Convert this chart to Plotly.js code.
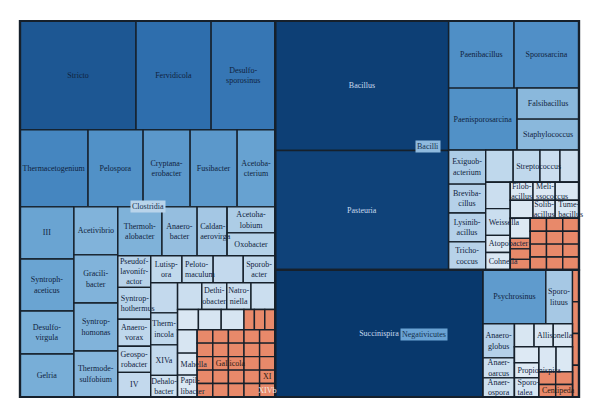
<!DOCTYPE html>
<html><head><meta charset="utf-8">
<script src="https://cdn.plot.ly/plotly-3.0.1.min.js"></script>
<style>html,body{margin:0;padding:0;background:#fff}#chart{width:600px;height:419px}</style>
</head><body><div id="chart"></div>
<script>
// ---------------- data ----------------
const groups = ['Clostridia', 'Bacilli', 'Negativicutes'];

// genus labels ('|' marks the line break used in the picture, '' = cell without a printed name)
const clostridiaGenera = ['Stricto','Fervidicola','Desulfo-|sporosinus','Thermacetogenium','Pelospora','Cryptana-|erobacter','Fusibacter','Acetoba-|cterium',
  'III','Syntroph-|aceticus','Desulfo-|virgula','Gelria','Acetivibrio','Gracili-|bacter','Syntrop-|homonas','Thermode-|sulfobium',
  'Thermoh-|alobacter','Anaero-|bacter','Caldan-|aerovirga','Acetoha-|lobium','Oxobacter',
  'Pseudof-|lavonifr-|actor','Syntrop-|hothermus','Anaero-|vorax','Geospo-|robacter','IV',
  'Lutisp-|ora','Peloto-|maculum','','Sporob-|acter',
  '','Therm-|incola','XIVa','Dehalo-|bacter',
  '','Dethi-|obacter','Natro-|niella','',
  '','','','','Mahella','Papil-|libacter'];
const clostridiaValues = [1264,818,698,524,424,362,362,293,
  281,281,232,232,211,211,211,202,
  216,172,147,125,110,
  104,105,89,86,81,
  84,84,81,86,
  81,86,82,58,
  65,67,65,65,
  42,46,46,46,43,43];
const clostridiaMinor = ['','','','','','','','','','','','','','','Gallicola','','','','','','','','XI','','','','','XIVb'];
const clostridiaMinorValues = [21,21,21,21,21,21,21,21,21,21,21,21,21,21,21,21,21,21,21,21,21,21,21,21,21,21,21,21];
// arrangement of the cells as nested strips (numbers = genus index, 'mN' = minor cell N)
const clostridiaTiles = [
  [0,1,2],
  [3,4,5,6,7],
  [[8,9,10,11],[12,13,14,15],
    [[16,17,18,[19,20]],
      [[21,22,23,24,25],
        [[26,27,28,29],
          [[30,31,32,33],
            [[34,35,36,37],[38,39,40,'m0','m1','m2'],
              [[41,42,43],
                [['m3','m4','m5','m6','m7'],['m8','m9','m10','m11','m12'],['m13','m14','m15','m16','m17'],['m18','m19','m20','m21','m22'],['m23','m24','m25','m26','m27']]]]]]]]]
];

const bacilliGenera = ['Bacillus','Pasteuria','Paenibacillus','Sporosarcina','Paenisporosarcina','Falsibacillus','Staphylococcus',
  'Exiguob-|acterium','Breviba-|cillus','Lysinib-|acillus','Tricho-|coccus',
  '','Streptococcus','','',
  '','Weissella','Atopobacter','Cohnella',
  'Filob-|acillus','Meli-|ssococcus','','','Solib-|acillus','Tume-|bacillus',''];
const bacilliValues = [2247,2073,439,436,425,192,192,
  126,107,107,104,
  88,86,64,61,
  65,66,42,43,
  41,40,43,41,40,43,40];
const bacilliMinor = ['','','','','','','','','','','','','','',''];
const bacilliMinorValues = [21,21,21,21,21,21,21,21,21,21,21,21,21,21,21];
const bacilliTiles = [
  [0,1],
  [[2,3],[4,[5,6]],
    [[7,8,9,10],
      [[11,12,13,14],
        [[15,16,17,18],
          [[19,20,21],[22,23,24],
            [[25,'m0','m1','m2'],[['m3','m4','m5'],['m6','m7','m8'],['m9','m10','m11'],['m12','m13','m14']]]]]]]]
];

const negativicutesGenera = ['Succinispira','Psychrosinus','Sporo-|lituus','Anaero-|globus','Anaer-|oarcus','Anaer-|ospora',
  '','Allisonella','','','Propionispira','Sporo-|talea','',''];
const negativicutesValues = [2642,338,143,107,63,60,45,44,44,39,37,47,43,41];
const negativicutesMinor = ['','Centipeda','','','','','',''];
const negativicutesMinorValues = [21,21,21,21,21,21,21,21];
const negativicutesTiles = [
  0,
  [[1,2],[[3,4,5],[[6,7,8],[[9,10,11],[[12,13],[['m0','m1'],['m2','m3']]]]]]],
  ['m4','m5','m6','m7']
];

// labels that run past their cell are set flush left in the picture
const flushLeftLabels = ['Streptococcus','Weissella','Atopobacter','Cohnella','Propionispira','Allisonella','Mahella',
  'Papil-|libacter','Gallicola','Centipeda','Syntrop-|hothermus','Meli-|ssococcus','Peloto-|maculum','Caldan-|aerovirga','Tume-|bacillus','Sporo-|talea'];

// ---------------- build the treemap nodes ----------------
const blues = [[0,'#dfeaf4'],[0.2,'#c0d8ec'],[0.32,'#a5c8e4'],[0.45,'#70a9d5'],[0.6,'#4a8bc4'],[0.72,'#2f6fae'],[0.84,'#1b5490'],[1,'#08386c']];
function hex2rgb(h){return [parseInt(h.substr(1,2),16),parseInt(h.substr(3,2),16),parseInt(h.substr(5,2),16)];}
function scaleColor(t){
  t=Math.max(0,Math.min(1,t));
  for(let i=1;i<blues.length;i++){
    if(t<=blues[i][0]){
      const a=blues[i-1], b=blues[i]; const f=(t-a[0])/(b[0]-a[0]);
      const ca=hex2rgb(a[1]), cb=hex2rgb(b[1]);
      return 'rgb('+ca.map((c,k)=>Math.round(c+(cb[k]-c)*f)).join(',')+')';
    }
  }
  return blues[blues.length-1][1];
}
const allMajor = clostridiaValues.concat(bacilliValues, negativicutesValues);
const vmin = Math.log(Math.min(...allMajor)), vmax = Math.log(Math.max(...allMajor));
const tOf = v => (Math.log(v)-vmin)/(vmax-vmin);

const LINE = '#16202b', ORANGE = '#e8896a';
const ids=[], labels=[], parents=[], values=[], rawText=[], colors=[], tcolors=[];
function addNode(id, label, parent, value, text, color, tcolor){
  ids.push(id); labels.push(label); parents.push(parent); values.push(value);
  rawText.push(text); colors.push(color); tcolors.push(tcolor);
}
addNode('root','','',0,'',LINE,'#000');
addNode('Clostridia','Clostridia','root',0,'',LINE,'#000');
addNode('right','','root',0,'',LINE,'#000');
addNode('Bacilli','Bacilli','right',0,'',LINE,'#000');
addNode('Negativicutes','Negativicutes','right',0,'',LINE,'#000');

function buildGroup(g, names, vals, minor, minorVals, tiles){
  function walk(items, parentId){
    items.forEach((it,k)=>{
      if(Array.isArray(it)){
        const sid = parentId+'.'+k;
        addNode(sid,'',parentId,0,'',LINE,'#000');
        walk(it, sid);
      } else if(typeof it === 'number'){
        const n = names[it], v = vals[it], t = tOf(v);
        addNode(g+'/'+it, n.replace(/\|/g,'') || (g+' genus '+it), parentId, v, n,
          scaleColor(t), t>0.88?'#c9dcef':'#10233d');
      } else {
        const j = +it.slice(1), n = minor[j];
        addNode(g+'/'+it, n || (g+' minor '+j), parentId, minorVals[j], n, ORANGE,
          n==='XIVb'?'#f6e9e2':'#2a1a14');
      }
    });
  }
  walk(tiles, g);
}
buildGroup('Clostridia', clostridiaGenera, clostridiaValues, clostridiaMinor, clostridiaMinorValues, clostridiaTiles);
buildGroup('Bacilli', bacilliGenera, bacilliValues, bacilliMinor, bacilliMinorValues, bacilliTiles);
buildGroup('Negativicutes', negativicutesGenera, negativicutesValues, negativicutesMinor, negativicutesMinorValues, negativicutesTiles);

const fmt = s => s.replace(/\|/g,'<br>');
const centerText = rawText.map(s => flushLeftLabels.includes(s) ? '' : fmt(s));
const leftText = rawText.map(s => flushLeftLabels.includes(s) ? fmt(s) : '');
const clear = ids.map(() => 'rgba(0,0,0,0)');
// heavier outline only for the three classes and the whole map
const classOutline = ids.map(id => (id === 'root' || groups.includes(id)) ? 2.2 : 0);

const common = {
  type:'treemap', ids:ids, labels:labels, parents:parents, values:values,
  branchvalues:'remainder', sort:false,
  tiling:{packing:'slice-dice', pad:0},
  pathbar:{visible:false}, hoverinfo:'none',
  domain:{x:[0,1],y:[0,1]}
};
// cells
const cells = Object.assign({}, common, {
  textinfo:'none',
  marker:{colors:colors, line:{color:LINE, width:1.4}, pad:{t:0,l:0,r:0,b:0}, depthfade:false}
});
// class outlines + centred labels drawn above every cell
const centered = Object.assign({}, common, {
  text:centerText, textinfo:'text', textposition:'middle center',
  textfont:{family:'Liberation Serif, serif', size:8, color:tcolors},
  marker:{colors:clear, line:{color:LINE, width:classOutline}, pad:{t:0,l:0,r:0,b:0}, depthfade:false}
});
const flushLeft = Object.assign({}, common, {
  text:leftText, textinfo:'text', textposition:'middle left',
  textfont:{family:'Liberation Serif, serif', size:8, color:tcolors},
  marker:{colors:clear, line:{width:0}, pad:{t:0,l:0,r:0,b:0}, depthfade:false}
});

const boxFont = {family:'Liberation Serif, serif', size:8, color:'#13304f'};
const box = (text, x, y, bg) => ({text:text, xref:'paper', yref:'paper', x:x, y:y, xanchor:'center', yanchor:'middle',
  showarrow:false, bgcolor:bg, font:boxFont, borderpad:1});
const layout = {
  width:600, height:419,
  margin:{l:20,r:21,t:21,b:22},
  paper_bgcolor:'#ffffff',
  uniformtext:{minsize:8, mode:'show'},
  annotations:[
    box('Clostridia', 0.229, 0.507, '#b9d4eb'),
    box('Bacilli', 0.729, 0.667, '#8fbade'),
    box('Negativicutes', 0.722, 0.166, '#6aa3d4')
  ]
};
Plotly.newPlot('chart',[cells, centered, flushLeft],layout,{displayModeBar:false, staticPlot:true});
</script></body></html>
